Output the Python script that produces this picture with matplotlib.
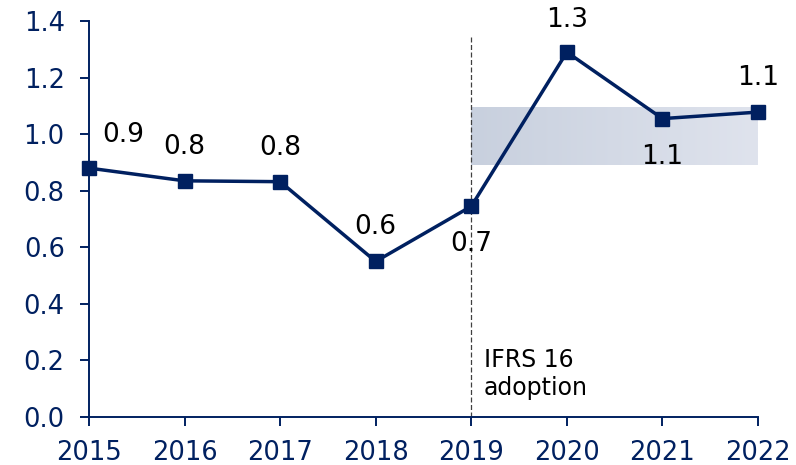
import numpy as np
import matplotlib
matplotlib.use('Agg')
import matplotlib.pyplot as plt

years = [2015, 2016, 2017, 2018, 2019, 2020, 2021, 2022]
values = [0.88, 0.835, 0.832, 0.55, 0.745, 1.29, 1.055, 1.078]
labels = ['0.9', '0.8', '0.8', '0.6', '0.7', '1.3', '1.1', '1.1']
# label offsets in points (dx, dy)
offsets = [(25, 24), (0, 24), (0, 24), (0, 24.5), (0, -27), (0, 23), (0, -28), (0, 24.5)]
band_low, band_high = 0.89, 1.092

navy = '#002060'

fig = plt.figure(figsize=(7.96, 4.65), dpi=100)
ax = fig.add_axes([0.1118, 0.1032, 0.8405, 0.8516])

# shaded target range with a light gradient
grad = np.linspace(0, 1, 256).reshape(1, -1)
cmap = matplotlib.colors.LinearSegmentedColormap.from_list('band', ['#c8d0de', '#dfe3ed'])
ax.imshow(grad, extent=[2019, 2022, band_low, band_high], aspect='auto', cmap=cmap, zorder=1)

ax.plot([2019, 2019], [0, 1.35], color='#404040', lw=0.9, ls=(0, (4, 2)), zorder=2)
ax.text(2019.13, 0.06, 'IFRS 16\nadoption', fontsize=17, color='black', va='bottom', ha='left', linespacing=1.2)

ax.plot(years, values, color=navy, lw=2.5, marker='s', markersize=10.5, zorder=3, clip_on=False)

for x, y, lab, (dx, dy) in zip(years, values, labels, offsets):
    ax.annotate(lab, (x, y), xytext=(dx, dy), textcoords='offset points',
                ha='center', va='center', fontsize=19, color='black')

ax.set_xlim(2015, 2022)
ax.set_ylim(0, 1.4)
ax.set_xticks(years)
ax.set_yticks(np.arange(0, 1.41, 0.2))
ax.set_yticklabels(['{0:.1f}'.format(v) for v in np.arange(0, 1.41, 0.2)])

for s in ['top', 'right']:
    ax.spines[s].set_visible(False)
for s in ['left', 'bottom']:
    ax.spines[s].set_color(navy)
    ax.spines[s].set_linewidth(1.4)
ax.tick_params(axis='both', colors=navy, labelsize=18.5, width=1.4, length=6.5, direction='out')
ax.tick_params(axis='x', pad=10)
ax.tick_params(axis='y', pad=11)

fig.savefig('out.png', dpi=100)
